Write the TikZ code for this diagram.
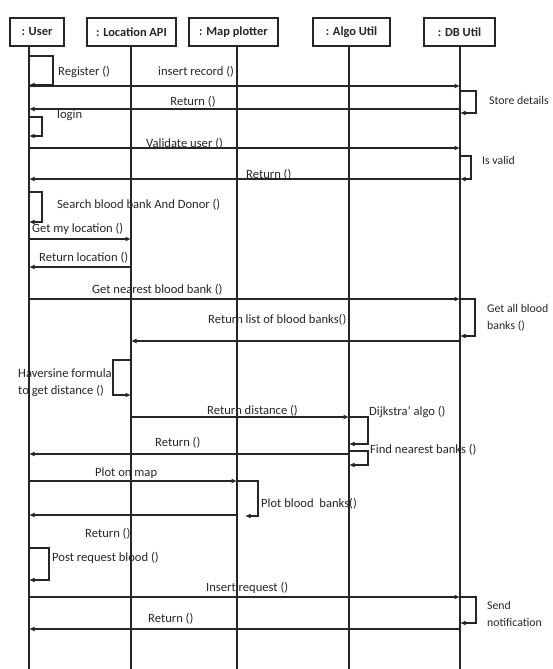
\documentclass[tikz,border=0pt]{standalone}
\usepackage{fontspec}
\setmainfont{Carlito}
\usetikzlibrary{arrows.meta}
\begin{document}
\begin{tikzpicture}[x=1pt,y=-1pt,
  every node/.style={font=\fontsize{12.6}{17}\selectfont, text=black!85, inner sep=0pt},
  head/.style={draw=black!85, line width=1.3pt, fill=white, minimum height=28pt, font=\bfseries\fontsize{12.4}{14}\selectfont},
  life/.style={draw=black!85, line width=1.1pt},
  msg/.style={draw=black!85, line width=1.1pt, -{Latex[length=5.5pt,width=5pt]}},
  lbl/.style={anchor=west},
  lbl2/.style={anchor=west, align=left},
  side/.style={font=\fontsize{11.8}{17}\selectfont}
]
\useasboundingbox (0,0) rectangle (552,669);
% lifeline anchor points
\coordinate (lu) at (29,46);   \coordinate (lue) at (29,669);
\coordinate (ll) at (131,46);  \coordinate (lle) at (131,669);
\coordinate (lm) at (237,46);  \coordinate (lme) at (237,669);
\coordinate (la) at (349,46);  \coordinate (lae) at (349,669);
\coordinate (ld) at (460,46);  \coordinate (lde) at (460,669);
\draw[life] (lu) -- (lue);
\draw[life] (ll) -- (lle);
\draw[life] (lm) -- (lme);
\draw[life] (la) -- (lae);
\draw[life] (ld) -- (lde);
% headers
\node[head, minimum width=54pt] (user) at (37,32) {: User};
\node[head, minimum width=89pt] (loc) at (131.5,32) {: Location API};
\node[head, minimum width=89pt] (map) at (233.5,32) {: Map plotter};
\node[head, minimum width=77pt] (algo) at (351.5,32) {: Algo Util};
\node[head, minimum width=71pt] (db) at (459.5,32) {: DB Util};
% rows
\foreach \n/\y in {
  regA/56, regB/85, ins/86, stA/91, stB/113, ret1/109,
  logA/117, logB/136, val/148, ivA/156, ivB/179, ret2/179,
  seA/192, seB/222, gml/239, rl/267, gnb/299, gaB/336, rlb/341,
  hvA/360, hvB/395, rd/417, djB/444, fnA/451, fnB/465, ret3/454,
  pom/481, pbB/516, ret4/515, prA/548, prB/580, ir/597, snB/623, ret5/629}
  \coordinate (r\n) at (0,\y);
% messages and self calls
\draw[msg] (lu |- rregA) -- ++(24,0) |- (lu |- rregB);
\draw[msg] (lu |- rins) -- (ld |- rins);
\draw[msg] (ld |- rstA) -- ++(16,0) |- (ld |- rstB);
\draw[msg] (ld |- rret1) -- (lu |- rret1);
\draw[msg] (lu |- rlogA) -- ++(13,0) |- (lu |- rlogB);
\draw[msg] (lu |- rval) -- (ld |- rval);
\draw[msg] (ld |- rivA) -- ++(11,0) |- (ld |- rivB);
\draw[msg] (ld |- rret2) -- (lu |- rret2);
\draw[msg] (lu |- rseA) -- ++(13,0) |- (lu |- rseB);
\draw[msg] (lu |- rgml) -- (ll |- rgml);
\draw[msg] (ll |- rrl) -- (lu |- rrl);
\draw[msg] (lu |- rgnb) -- (ld |- rgnb);
\draw[msg] (ld |- rgnb) -- ++(15,0) |- (ld |- rgaB);
\draw[msg] (ld |- rrlb) -- (ll |- rrlb);
\draw[msg] (ll |- rhvA) -- ++(-18,0) |- (ll |- rhvB);
\draw[msg] (ll |- rrd) -- (la |- rrd);
\draw[msg] (la |- rrd) -- ++(19,0) |- (la |- rdjB);
\draw[msg] (la |- rfnA) -- ++(19,0) |- (la |- rfnB);
\draw[msg] (la |- rret3) -- (lu |- rret3);
\draw[msg] (lu |- rpom) -- (lm |- rpom);
\coordinate (pbEnd) at (245,516);
\draw[msg] (lm |- rpom) -- ++(21,0) |- (pbEnd);
\draw[msg] (lm |- rret4) -- (lu |- rret4);
\draw[msg] (lu |- rprA) -- ++(20,0) |- (lu |- rprB);
\draw[msg] (lu |- rir) -- (ld |- rir);
\draw[msg] (ld |- rir) -- ++(16,0) |- (ld |- rsnB);
\draw[msg] (ld |- rret5) -- (lu |- rret5);
% labels
\node[lbl] (t1) at (58,72) {Register ()};
\node[lbl] (t2) at (158,72) {insert record ()};
\node[lbl, side] (t3) at (489,100) {Store details};
\node (t4) at (193,102) {Return ()};
\node[lbl] (t5) at (57,115) {login};
\node[lbl] (t6) at (146,144) {Validate user ()};
\node[lbl, side] (t7) at (482,160) {Is valid};
\node[lbl] (t8) at (246,175) {Return ()};
\node[lbl] (t9) at (57,205) {Search blood bank And Donor ()};
\node[lbl] (t10) at (32,229) {Get my location ()};
\node[lbl] (t11) at (39,258) {Return location ()};
\node[lbl] (t12) at (92,290) {Get nearest blood bank ()};
\node[lbl2, side] (t13) at (487,318) {Get all blood\\banks ()};
\node[lbl] (t14) at (208,320) {Return list of blood banks()};
\node[lbl2] (t15) at (18,383) {Haversine formula\\to get distance ()};
\node[lbl] (t16) at (207,411) {Return distance ()};
\node[lbl] (t17) at (369,412) {Dijkstra’ algo ()};
\node[lbl] (t18) at (155,443) {Return ()};
\node[lbl] (t19) at (370,450) {Find nearest banks ()};
\node[lbl] (t20) at (95,473) {Plot on map};
\node[lbl] (t21) at (261,504) {Plot blood\ \ banks()};
\node[lbl] (t22) at (85,534) {Return ()};
\node[lbl] (t23) at (52,558) {Post request blood ()};
\node[lbl] (t24) at (206,588) {Insert request ()};
\node[lbl2, side] (t25) at (487,614) {Send\\notification};
\node[lbl] (t26) at (148,619) {Return ()};
\end{tikzpicture}
\end{document}
